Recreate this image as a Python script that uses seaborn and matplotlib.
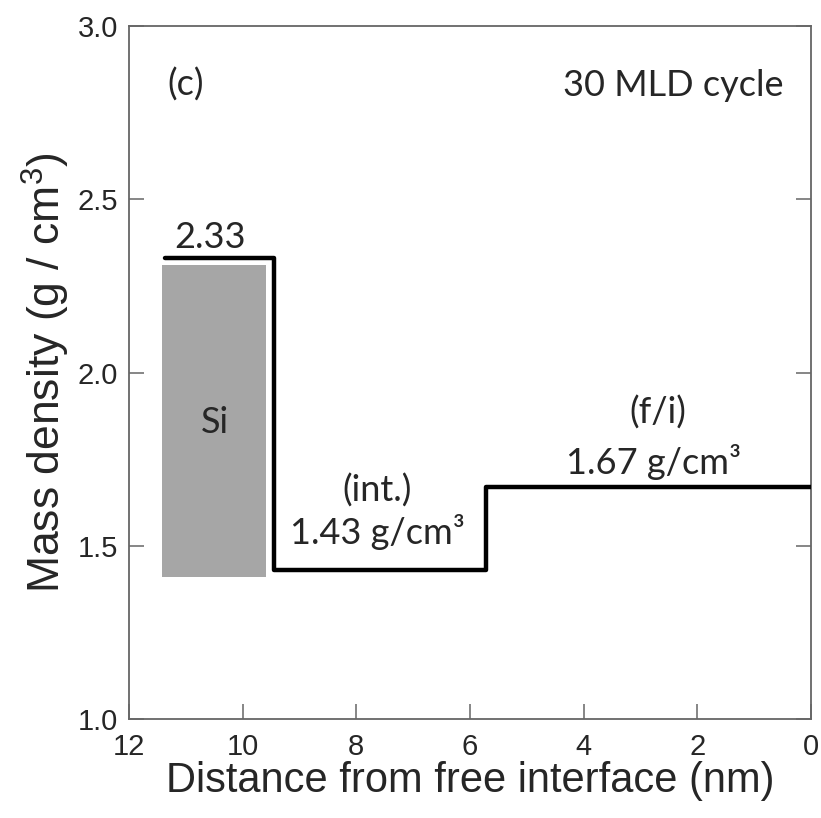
import numpy as np
import pandas as pd
import matplotlib
matplotlib.use("Agg")
import matplotlib.pyplot as plt
import seaborn as sns

# ==============================
# Data
# ==============================
step_x = [11.37, 9.45, 5.72, 0.0]        # nm, left edge of each layer
step_density = [2.33, 1.43, 1.67, 1.67]  # g/cm3 (last value repeats for steps)

si_left, si_right = 11.41, 9.58
si_bottom, si_top = 1.41, 2.31

x_ticks = [12, 10, 8, 6, 4, 2, 0]
y_ticks = [1.0, 1.5, 2.0, 2.5, 3.0]

# ==============================
# Style
# ==============================
sns.set_style("ticks")
plt.rcParams["font.family"] = ["Liberation Sans", "DejaVu Sans"]
plt.rcParams["mathtext.fontset"] = "custom"
plt.rcParams["mathtext.rm"] = "Liberation Sans"
plt.rcParams["mathtext.it"] = "Liberation Sans"

ANN_FONT = ["Lato", "DejaVu Sans"]
ANN_SIZE = 26
SPINE_C = "#666666"

fig = plt.figure(figsize=(8.21, 8.18), dpi=100)
ax = fig.add_axes([0.157, 0.121, 0.831, 0.847])

# Si substrate block
ax.bar(si_left, si_top - si_bottom, width=si_right - si_left, bottom=si_bottom,
       align="edge", color="#a6a6a6", edgecolor="none", zorder=1)

# density profile
df = pd.DataFrame({"x": step_x, "density": step_density})
sns.lineplot(data=df, x="x", y="density", sort=False, color="black",
             linewidth=3.2, drawstyle="steps-post", ax=ax, zorder=3)

ax.set_xlim(12, 0)
ax.set_ylim(1.0, 3.0)
ax.set_xticks(x_ticks)
ax.set_xticklabels([str(t) for t in x_ticks])
ax.set_yticks(y_ticks)
ax.set_yticklabels([f"{t:.1f}" for t in y_ticks])

ax.tick_params(axis="both", direction="in", length=11, width=1.1,
               color=SPINE_C, labelsize=21, pad=10)
ax.tick_params(axis="y", right=True, pad=8)
for s in ax.spines.values():
    s.set_color(SPINE_C)
    s.set_linewidth(1.3)

ax.set_xlabel("Distance from free interface (nm)", fontsize=30, labelpad=0)
ax.set_ylabel("Mass density (g / cm$^3$)", fontsize=32, labelpad=4)

# annotations
ax.text(11.01, 2.83, "(c)", fontsize=ANN_SIZE, family=ANN_FONT, ha="center", va="center")
ax.text(0.49, 2.83, "30 MLD cycle", fontsize=ANN_SIZE, family=ANN_FONT, ha="right", va="center")
ax.text(10.57, 2.39, "2.33", fontsize=ANN_SIZE, family=ANN_FONT, ha="center", va="center")
ax.text(10.49, 1.855, "Si", fontsize=ANN_SIZE, family=ANN_FONT, ha="center", va="center")
ax.text(7.63, 1.66, "(int.)", fontsize=ANN_SIZE, family=ANN_FONT, ha="center", va="center")
ax.text(7.63, 1.54, "1.43 g/cm\u00b3", fontsize=ANN_SIZE, family=ANN_FONT, ha="center", va="center")
ax.text(2.70, 1.884, "(f/i)", fontsize=ANN_SIZE, family=ANN_FONT, ha="center", va="center")
ax.text(2.77, 1.743, "1.67 g/cm\u00b3", fontsize=ANN_SIZE, family=ANN_FONT, ha="center", va="center")

plt.savefig("out.png", dpi=100)
plt.close()
